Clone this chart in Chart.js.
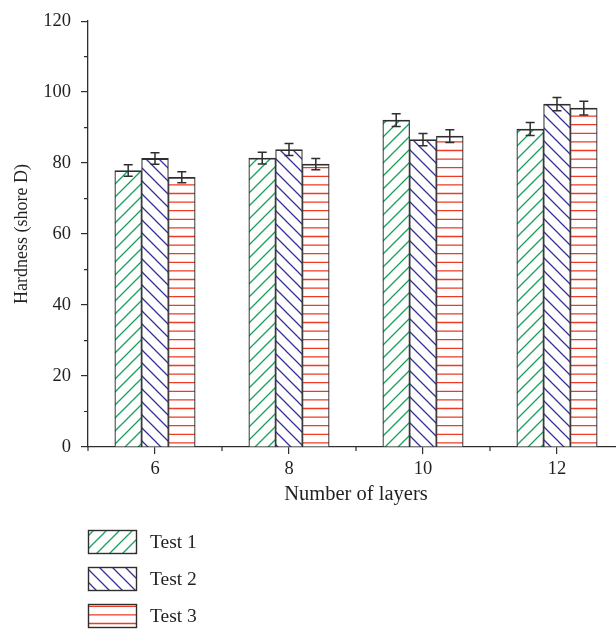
<!DOCTYPE html>
<html>
<head>
<meta charset="utf-8">
<script src="https://cdn.jsdelivr.net/npm/chart.js@4"></script>
<style>
html, body { margin: 0; padding: 0; background: #fff; overflow: hidden; width: 616px; height: 631px; }
#wrap { width: 640px; height: 631px; position: relative; }
</style>
</head>
<body>
<div id="wrap"><canvas id="chart-hardness"></canvas></div>
<script>
// number of layers (x) and hardness readings per test
var layers = [6, 8, 10, 12];
var test1 = [77.9, 81.4, 92.1, 89.6];
var test2 = [81.3, 83.8, 86.6, 96.6];
var test3 = [76.0, 79.7, 87.6, 95.5];
var err1 = [1.6, 1.65, 1.8, 1.8];
var err2 = [1.6, 1.7, 1.75, 1.85];
var err3 = [1.55, 1.6, 1.8, 1.95];
var seriesNames = ['Test 1', 'Test 2', 'Test 3'];

var axisColor = '#2e2e2e';
var textColor = '#231f20';
var serif = "'Liberation Serif', 'DejaVu Serif', serif";

function hatch(kind, color) {
    var c = document.createElement('canvas');
    var w = 13, h = 13;
    if (kind === 'h') { w = 10; h = 43; }
    c.width = w; c.height = h;
    var g = c.getContext('2d');
    g.fillStyle = '#fff';
    g.fillRect(0, 0, w, h);
    g.strokeStyle = color;
    g.lineWidth = 1.3;
    g.beginPath();
    if (kind === '/') {
        g.moveTo(-1, h + 1); g.lineTo(w + 1, -1);
        g.moveTo(-2, 2); g.lineTo(2, -2);
        g.moveTo(w - 2, h + 2); g.lineTo(w + 2, h - 2);
    } else if (kind === '\\') {
        g.moveTo(-1, -1); g.lineTo(w + 1, h + 1);
        g.moveTo(w - 2, -2); g.lineTo(w + 2, 2);
        g.moveTo(-2, h - 2); g.lineTo(2, h + 2);
    } else {
        [4.3, 12.9, 21.5, 30.1, 38.7].forEach(function (y) {
            g.moveTo(0, y); g.lineTo(w, y);
        });
    }
    g.stroke();
    return g.createPattern(c, 'repeat');
}

var fills = [hatch('/', '#17a05a'), hatch('\\', '#37309a'), hatch('h', '#f03a22')];

function points(vals) {
    return layers.map(function (l, i) { return { x: l, y: vals[i] }; });
}

var errorBars = {
    id: 'errorBars',
    afterDatasetsDraw: function (chart) {
        var ctx = chart.ctx, ys = chart.scales.y;
        ctx.save();
        ctx.strokeStyle = axisColor;
        ctx.lineWidth = 1.5;
        chart.data.datasets.forEach(function (ds, i) {
            chart.getDatasetMeta(i).data.forEach(function (bar, j) {
                var v = ds.data[j].y, e = ds.errors[j];
                var top = ys.getPixelForValue(v + e), bot = ys.getPixelForValue(v - e);
                ctx.beginPath();
                ctx.moveTo(bar.x, top); ctx.lineTo(bar.x, bot);
                ctx.moveTo(bar.x - 4.5, top); ctx.lineTo(bar.x + 4.5, top);
                ctx.moveTo(bar.x - 4.5, bot); ctx.lineTo(bar.x + 4.5, bot);
                ctx.stroke();
            });
        });
        ctx.restore();
    }
};

// short minor ticks + legend under the plot
var extras = {
    id: 'extras',
    afterDraw: function (chart) {
        var ctx = chart.ctx, xs = chart.scales.x, ys = chart.scales.y, a = chart.chartArea;
        ctx.save();
        ctx.strokeStyle = axisColor;
        ctx.lineWidth = 1.2;
        ctx.beginPath();
        [5, 7, 9, 11, 13].forEach(function (v) {
            var px = xs.getPixelForValue(v);
            ctx.moveTo(px, a.bottom); ctx.lineTo(px, a.bottom + 4);
        });
        [10, 30, 50, 70, 90, 110].forEach(function (v) {
            var py = ys.getPixelForValue(v);
            ctx.moveTo(a.left, py); ctx.lineTo(a.left - 4, py);
        });
        ctx.stroke();

        ctx.font = '19.5px ' + serif;
        ctx.textBaseline = 'middle';
        seriesNames.forEach(function (name, i) {
            var bx = 88.5, by = 530.5 + i * 37;
            ctx.fillStyle = fills[i];
            ctx.fillRect(bx, by, 48, 23);
            ctx.strokeStyle = axisColor;
            ctx.lineWidth = 1.4;
            ctx.strokeRect(bx, by, 48, 23);
            ctx.fillStyle = textColor;
            ctx.fillText(name, 150, by + 12);
        });
        ctx.restore();
    }
};

var chart = new Chart(document.getElementById('chart-hardness'), {
    type: 'bar',
    data: {
        datasets: [
            { label: seriesNames[0], data: points(test1), errors: err1, backgroundColor: fills[0] },
            { label: seriesNames[1], data: points(test2), errors: err2, backgroundColor: fills[1] },
            { label: seriesNames[2], data: points(test3), errors: err3, backgroundColor: fills[2] }
        ]
    },
    options: {
        responsive: true,
        maintainAspectRatio: false,
        animation: false,
        layout: { padding: { top: 16, right: 16, bottom: 124, left: 0 } },
        datasets: {
            bar: {
                barThickness: 26.8,
                borderColor: axisColor,
                borderWidth: { top: 1.8, left: 1.2, right: 1.2, bottom: 0 },
                borderSkipped: false
            }
        },
        plugins: {
            legend: { display: false },
            tooltip: { enabled: false }
        },
        scales: {
            x: {
                type: 'linear',
                offset: false,
                min: 5,
                max: 13,
                afterFit: function (s) { s.height = 60; },
                border: { color: axisColor, width: 1.3 },
                grid: {
                    offset: false,
                    drawOnChartArea: false,
                    tickLength: 7,
                    lineWidth: 1.2,
                    tickColor: function (c) { return c.tick && c.tick.value % 2 === 0 ? axisColor : 'rgba(0,0,0,0)'; }
                },
                ticks: {
                    stepSize: 1,
                    padding: 4,
                    color: textColor,
                    font: { family: serif, size: 18.5 },
                    callback: function (v) { return v % 2 === 0 && v > 5 && v < 13 ? String(v) : ''; }
                },
                title: {
                    display: true,
                    text: 'Number of layers',
                    color: textColor,
                    font: { family: serif, size: 20.5 },
                    padding: { top: 0, bottom: 0 }
                }
            },
            y: {
                min: 0,
                max: 120,
                afterFit: function (s) { s.width = 88; },
                border: { color: axisColor, width: 1.3 },
                grid: {
                    drawOnChartArea: false,
                    tickLength: 7,
                    lineWidth: 1.2,
                    tickColor: function (c) { return c.tick && c.tick.value % 20 === 0 ? axisColor : 'rgba(0,0,0,0)'; }
                },
                ticks: {
                    stepSize: 10,
                    padding: 10,
                    color: textColor,
                    font: { family: serif, size: 18.5 },
                    callback: function (v) { return v % 20 === 0 ? String(v) : ''; }
                },
                title: {
                    display: true,
                    text: 'Hardness (shore D)',
                    color: textColor,
                    font: { family: serif, size: 18 },
                    padding: { top: 11, bottom: 0 }
                }
            }
        }
    },
    plugins: [errorBars, extras]
});
</script>
</body>
</html>
